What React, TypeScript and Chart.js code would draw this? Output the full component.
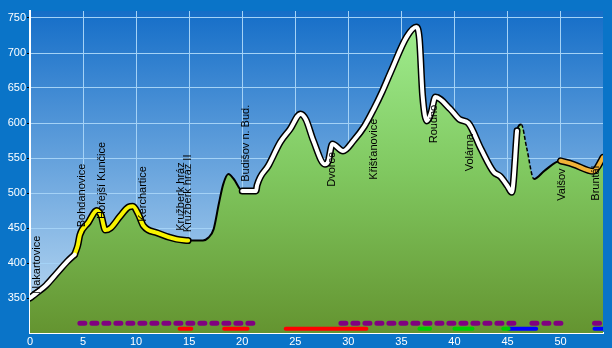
import React, { useEffect, useRef } from "react";
import { Chart, registerables } from "chart.js";

Chart.register(...registerables);

// Profile (km, elevation m)
const kmPoints = [
  0, 0.6, 1.5, 2.5, 3.5, 4.2, 4.5, 4.7, 5.5, 6.3, 6.7, 7.1, 7.6, 8.5, 9.3, 9.7, 10.2, 10.7, 12.0, 13.8,
  14.9, 16.3, 16.8, 17.3, 17.8, 18.2, 18.7, 19.2, 20.0, 21.3, 21.4, 22.5, 23.6, 24.5, 25.5, 26.0, 26.7,
  27.8, 28.1, 28.5, 29.5, 30.5, 31.5, 32.4, 33.2, 34.0, 35.5, 36.4, 36.7, 37.0, 37.4, 37.8, 38.2, 39.6,
  40.5, 41.3, 42.5, 43.7, 44.3, 45.0, 45.4, 45.9, 46.3, 46.8, 47.5, 48.5, 50.0, 51.2, 53.1, 53.4, 54.0,
];
const elevations = [
  350, 357, 368, 385, 402, 412, 425, 440, 458, 475, 468, 447, 450, 467, 480, 481, 470, 453, 443, 434,
  432, 432, 436, 448, 485, 512, 527, 520, 503, 503, 511, 540, 573, 591, 613, 605, 575,
  541, 545, 570, 560, 575, 595, 620, 645, 673, 723, 737, 720, 639, 603, 615, 637, 620,
  605, 600, 563, 530, 524, 510, 501, 589, 598, 565, 520, 532, 546, 541, 531, 535, 551,
];

// Highlighted route sections
const highlightStart = [0, 4.2, 20.0, 50.0];
const highlightEnd = [4.2, 14.9, 45.9, 54.0];
const highlightColors = ["#ffffff", "#f8f400", "#ffffff", "#f0b238"];

// Dashed section of the profile line
const dashedStart = 46.3;
const dashedEnd = 47.5;

// Stations
const stationNames = [
  "Nakartovice", "Bohdanovice", "Hořejší Kunčice", "Kerchartice", "Kružberk hráz", "Kružberk hráz II",
  "Budišov n. Bud.", "Dvorce", "Křišťanovice", "Roudno", "Volárna", "Valšov", "Bruntál",
];
const stationKm = [0.66, 4.9, 6.8, 10.6, 14.2, 14.9, 20.4, 28.5, 32.4, 38.1, 41.5, 50.1, 53.3];
const stationLabelElev = [356, 451, 463, 459, 446, 444, 516, 509, 519, 571, 531, 489, 489];

// Bottom bands
const purpleStart = [4.7, 29.3, 47.3, 53.2];
const purpleEnd = [21.4, 46.0, 50.3, 53.9];
const redStart = [14.1, 18.3, 24.1];
const redEnd = [15.2, 20.5, 31.7];
const greenStart = [36.7, 40.0, 44.6];
const greenEnd = [37.7, 41.7, 45.1];
const blueStart = [45.1, 53.2];
const blueEnd = [47.7, 54.0];
const purpleLevel = 314;
const colorLevel = 306;

const xTicks = [0, 5, 10, 15, 20, 25, 30, 35, 40, 45, 50];
const yTicks = [350, 400, 450, 500, 550, 600, 650, 700, 750];
const xMin = 0;
const xMax = 54;
const yMin = 300;
const yMax = 760;

const FONT = '"Liberation Sans", Arial, sans-serif';

export default function App() {
  const ref = useRef<HTMLCanvasElement | null>(null);

  useEffect(() => {
    if (!ref.current) return;
    const profile = kmPoints.map((x, i) => ({ x, y: elevations[i] }));

    const datasets: any[] = [];

    // bands
    const band = (starts: number[], ends: number[], level: number, color: string, width: number, dash?: number[]) => {
      starts.forEach((s, i) => {
        datasets.push({
          data: [
            { x: s, y: level },
            { x: ends[i], y: level },
          ],
          borderColor: color,
          borderWidth: width,
          borderDash: dash,
          borderCapStyle: "round",
          pointRadius: 0,
          fill: false,
          order: 1,
        });
      });
    };
    band(purpleStart, purpleEnd, purpleLevel, "#800080", 5, [5, 7]);
    band(redStart, redEnd, colorLevel, "#ff0000", 4);
    band(greenStart, greenEnd, colorLevel, "#00cc00", 4);
    band(blueStart, blueEnd, colorLevel, "#0000ff", 4);

    // highlighted sections
    highlightStart.forEach((s, i) => {
      const pts = profile.filter((p) => p.x >= s && p.x <= highlightEnd[i]);
      datasets.push({
        data: pts,
        borderColor: "#000000",
        borderWidth: 7,
        borderCapStyle: "round",
        borderJoinStyle: "round",
        cubicInterpolationMode: "monotone",
        pointRadius: 0,
        fill: false,
        order: 6,
      });
      datasets.push({
        data: pts,
        borderColor: highlightColors[i],
        borderWidth: 4,
        borderCapStyle: "round",
        borderJoinStyle: "round",
        cubicInterpolationMode: "monotone",
        pointRadius: 0,
        fill: false,
        order: 5,
      });
    });

    const inDash = (c: any) => c.p0.parsed.x >= dashedStart && c.p1.parsed.x <= dashedEnd;

    // black profile line
    datasets.push({
      data: profile,
      borderColor: "#000000",
      borderWidth: 2,
      cubicInterpolationMode: "monotone",
      pointRadius: 0,
      fill: false,
      order: 8,
      segment: {
        borderDash: (c: any) => (inDash(c) ? [4, 2] : undefined),
        borderWidth: (c: any) => (inDash(c) ? 1.5 : undefined),
      },
    });

    // filled area
    datasets.push({
      data: profile,
      borderColor: "rgba(0,0,0,0)",
      borderWidth: 0,
      cubicInterpolationMode: "monotone",
      pointRadius: 0,
      fill: "start",
      order: 10,
      backgroundColor: (c: any) => {
        const area = c.chart.chartArea;
        if (!area) return "#7cc05a";
        const g = c.chart.ctx.createLinearGradient(0, area.top, 0, area.bottom);
        g.addColorStop(0, "#a2f092");
        g.addColorStop(0.5, "#80c860");
        g.addColorStop(1, "#649430");
        return g;
      },
    });

    const bgPlugin = {
      id: "bg",
      beforeDraw(chart: any) {
        const { ctx, chartArea } = chart;
        ctx.save();
        ctx.fillStyle = "#0a74c8";
        ctx.fillRect(0, 0, chart.width, chart.height);
        if (chartArea) {
          const g = ctx.createLinearGradient(0, chartArea.top, 0, chartArea.bottom);
          g.addColorStop(0, "#156ec8");
          g.addColorStop(1, "#c2def4");
          ctx.fillStyle = g;
          ctx.fillRect(chartArea.left, chartArea.top, chartArea.right - chartArea.left, chartArea.bottom - chartArea.top);
        }
        ctx.restore();
      },
    };

    const labelPlugin = {
      id: "stationLabels",
      afterDatasetsDraw(chart: any) {
        const { ctx } = chart;
        const xs = chart.scales.x;
        const ys = chart.scales.y;
        ctx.save();
        ctx.font = `11px ${FONT}`;
        ctx.fillStyle = "#000000";
        ctx.textAlign = "left";
        ctx.textBaseline = "middle";
        stationNames.forEach((name, i) => {
          const px = xs.getPixelForValue(stationKm[i]);
          const py = ys.getPixelForValue(stationLabelElev[i]);
          ctx.save();
          ctx.translate(px, py);
          ctx.rotate(-Math.PI / 2);
          ctx.fillText(name, 0, 0);
          ctx.restore();
        });
        ctx.restore();
      },
    };

    const chart = new Chart(ref.current, {
      type: "line",
      data: { datasets },
      options: {
        animation: false,
        responsive: false,
        devicePixelRatio: 1,
        layout: { padding: { top: 11, right: 9, left: 0, bottom: 0 } },
        plugins: { legend: { display: false }, tooltip: { enabled: false } },
        scales: {
          x: {
            type: "linear",
            min: xMin,
            max: xMax,
            afterBuildTicks: (s: any) => {
              s.ticks = xTicks.map((v) => ({ value: v }));
            },
            afterFit: (s: any) => {
              s.height = 15;
            },
            ticks: {
              color: "#ffffff",
              font: { family: FONT, size: 11 },
              padding: 2,
              maxRotation: 0,
              autoSkip: false,
            },
            grid: {
              color: "#a4d2f6",
              lineWidth: 1,
              drawTicks: false,
            },
            border: { color: "#ffffff", width: 2 },
          },
          y: {
            type: "linear",
            min: yMin,
            max: yMax,
            afterBuildTicks: (s: any) => {
              s.ticks = yTicks.map((v) => ({ value: v }));
            },
            afterFit: (s: any) => {
              s.width = 30;
            },
            ticks: {
              color: "#ffffff",
              font: { family: FONT, size: 11 },
              padding: 1,
              autoSkip: false,
            },
            grid: {
              color: "#a4d2f6",
              lineWidth: 1,
              drawTicks: true,
              tickLength: 3,
              tickColor: "#000000",
            },
            border: { color: "#ffffff", width: 2 },
          },
        },
      },
      plugins: [bgPlugin, labelPlugin],
    });
    return () => chart.destroy();
  }, []);

  return (
    <div style={{ position: "fixed", left: 0, top: 0, width: 612, height: 348 }}>
      <canvas ref={ref} width={612} height={348} style={{ display: "block" }} />
    </div>
  );
}
